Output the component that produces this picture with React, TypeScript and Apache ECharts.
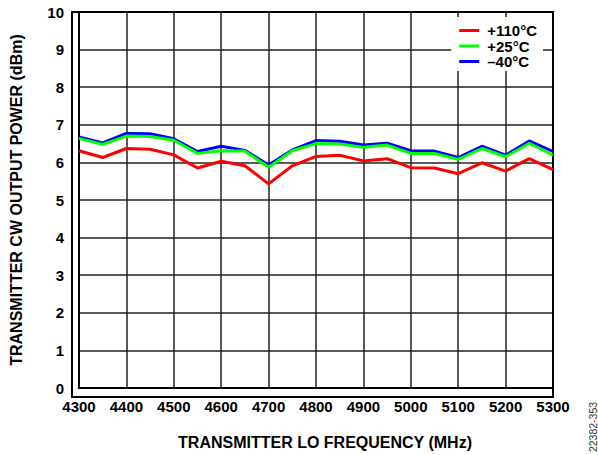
import React, { useEffect, useRef } from "react";
import * as echarts from "echarts";

const freqs = [4300, 4350, 4400, 4450, 4500, 4550, 4600, 4650, 4700, 4750, 4800, 4850, 4900, 4950, 5000, 5050, 5100, 5150, 5200, 5250, 5300];
const hot110 = [6.31, 6.13, 6.37, 6.35, 6.2, 5.85, 6.03, 5.91, 5.43, 5.91, 6.16, 6.19, 6.04, 6.1, 5.86, 5.85, 5.7, 5.99, 5.77, 6.1, 5.81];
const room25 = [6.64, 6.48, 6.7, 6.69, 6.59, 6.24, 6.31, 6.3, 5.87, 6.31, 6.5, 6.49, 6.4, 6.46, 6.24, 6.24, 6.08, 6.37, 6.15, 6.51, 6.19];
const cold40 = [6.68, 6.52, 6.77, 6.76, 6.63, 6.29, 6.43, 6.32, 5.93, 6.33, 6.58, 6.56, 6.46, 6.51, 6.31, 6.3, 6.13, 6.43, 6.19, 6.57, 6.29];
const seriesNames = ["+110°C", "+25°C", "\u201340°C"];
const xTitle = "TRANSMITTER LO FREQUENCY (MHz)";
const yTitle = "TRANSMITTER CW OUTPUT POWER (dBm)";
const figId = "22382-353";

const FONT = "Liberation Sans, Arial, sans-serif";

export default function App() {
  const ref = useRef<HTMLDivElement>(null);
  useEffect(() => {
    if (!ref.current) return;
    const chart = echarts.init(ref.current, undefined, { renderer: "svg" });
    const pair = (arr: number[]) => freqs.map((f, i) => [f, arr[i]]);
    const mk = (name: string, data: number[], color: string, z: number) => ({
      name,
      type: "line",
      data: pair(data),
      showSymbol: false,
      symbol: "none",
      lineStyle: { color, width: 3 },
      itemStyle: { color },
      z,
    });
    chart.setOption({
      animation: false,
      textStyle: { fontFamily: FONT },
      grid: { left: 72, right: 45, top: 12, bottom: 58 },
      legend: {
        data: seriesNames,
        orient: "vertical",
        right: 55,
        top: 17,
        icon: "rect",
        itemWidth: 20,
        itemHeight: 3,
        itemGap: 0.5,
        backgroundColor: "#fff",
        padding: [6, 6, 2, 8],
        textStyle: { fontFamily: FONT, fontWeight: "bold", fontSize: 15, color: "#000", padding: [0, 0, 0, 3] },
      },
      xAxis: {
        type: "value",
        min: 4300,
        max: 5300,
        interval: 100,
        name: xTitle,
        nameLocation: "middle",
        nameGap: 46,
        nameTextStyle: { fontFamily: FONT, fontWeight: "bold", fontSize: 16, color: "#000", padding: [0, 0, 0, 18] },
        axisLine: { show: true, lineStyle: { color: "#000", width: 2 } },
        axisTick: { show: false },
        axisLabel: { fontFamily: FONT, fontWeight: "bold", fontSize: 15, color: "#000", margin: 11, formatter: (v: number) => String(v) },
        splitLine: { show: true, lineStyle: { color: "#222", width: 1.5 } },
      },
      yAxis: {
        type: "value",
        min: 0,
        max: 10,
        interval: 1,
        name: yTitle,
        nameLocation: "middle",
        nameGap: 55,
        nameTextStyle: { fontFamily: FONT, fontWeight: "bold", fontSize: 16, color: "#000" },
        axisLine: { show: true, lineStyle: { color: "#000", width: 2 } },
        axisTick: { show: false },
        axisLabel: { fontFamily: FONT, fontWeight: "bold", fontSize: 15, color: "#000", margin: 15 },
        splitLine: { show: true, lineStyle: { color: "#222", width: 1.5 } },
      },
      graphic: [
        {
          type: "rect",
          shape: { x: 72, y: 12, width: 481, height: 385 },
          style: { fill: "none", stroke: "#000", lineWidth: 2 },
          silent: true,
          z: 1,
        },
        {
          type: "text",
          x: 593,
          y: 427,
          rotation: Math.PI / 2,
          style: {
            text: figId,
            fontFamily: FONT,
            fontSize: 10.5,
            fill: "#333",
            align: "center",
            verticalAlign: "middle",
          },
        },
      ],
      series: [
        mk(seriesNames[2], cold40, "#0000ff", 2),
        mk(seriesNames[1], room25, "#00ff00", 3),
        mk(seriesNames[0], hot110, "#ff0000", 4),
      ],
    });
    return () => chart.dispose();
  }, []);
  return <div ref={ref} style={{ position: "fixed", left: 0, top: 0, width: 598, height: 455, background: "#fff" }} />;
}
